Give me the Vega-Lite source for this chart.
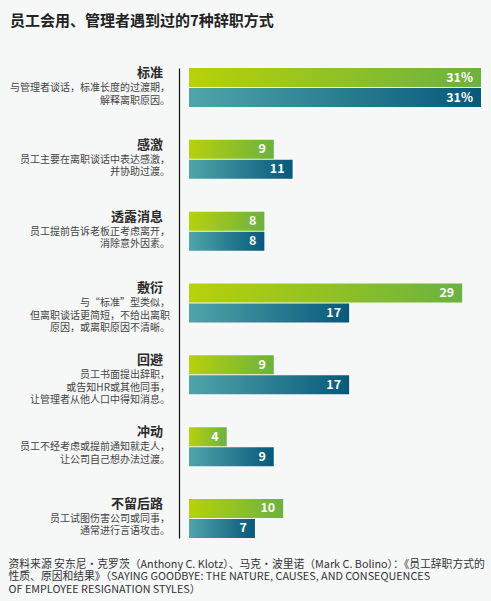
{
  "$schema": "https://vega.github.io/schema/vega-lite/v6.json",
  "width": 292,
  "height": 470,
  "autosize": {"type": "none"},
  "padding": {"left": 189, "top": 68, "right": 10, "bottom": 63},
  "background": "#f6f8f8",
  "config": {"view": {"stroke": null}, "font": "Noto Sans CJK SC"},
  "title": {
    "text": "员工会用、管理者遇到过的7种辞职方式",
    "anchor": "start",
    "frame": "group",
    "dx": -179,
    "offset": 38,
    "fontSize": 15,
    "fontWeight": "bold",
    "color": "#222222"
  },
  "datasets": {
    "bars": [
      {"cat": "标准", "series": "A", "value": 31, "label": "31%"},
      {"cat": "标准", "series": "B", "value": 31, "label": "31%"},
      {"cat": "感激", "series": "A", "value": 9, "label": "9"},
      {"cat": "感激", "series": "B", "value": 11, "label": "11"},
      {"cat": "透露消息", "series": "A", "value": 8, "label": "8"},
      {"cat": "透露消息", "series": "B", "value": 8, "label": "8"},
      {"cat": "敷衍", "series": "A", "value": 29, "label": "29"},
      {"cat": "敷衍", "series": "B", "value": 17, "label": "17"},
      {"cat": "回避", "series": "A", "value": 9, "label": "9"},
      {"cat": "回避", "series": "B", "value": 17, "label": "17"},
      {"cat": "冲动", "series": "A", "value": 4, "label": "4"},
      {"cat": "冲动", "series": "B", "value": 9, "label": "9"},
      {"cat": "不留后路", "series": "A", "value": 10, "label": "10"},
      {"cat": "不留后路", "series": "B", "value": 7, "label": "7"}
    ],
    "cats": [
      {"cat": "标准", "desc": ["与管理者谈话，标准长度的过渡期，", "解释离职原因。"]},
      {"cat": "感激", "desc": ["员工主要在离职谈话中表达感激，", "并协助过渡。"]},
      {"cat": "透露消息", "desc": ["员工提前告诉老板正考虑离开，", "消除意外因素。"]},
      {"cat": "敷衍", "desc": ["与“标准”型类似，", "但离职谈话更简短，不给出离职", "原因，或离职原因不清晰。"]},
      {"cat": "回避", "desc": ["员工书面提出辞职，", "或告知HR或其他同事，", "让管理者从他人口中得知消息。"]},
      {"cat": "冲动", "desc": ["员工不经考虑或提前通知就走人，", "让公司自己想办法过渡。"]},
      {"cat": "不留后路", "desc": ["员工试图伤害公司或同事，", "通常进行言语攻击。"]}
    ]
  },
  "layer": [
    {
      "data": {"name": "bars"},
      "transform": [{"filter": "datum.series === 'A'"}],
      "mark": {
        "type": "bar",
        "color": {
          "gradient": "linear", "x1": 0, "y1": 0, "x2": 1, "y2": 0,
          "stops": [{"offset": 0, "color": "#b8d10a"}, {"offset": 1, "color": "#6bb23f"}]
        }
      },
      "encoding": {
        "x": {
          "field": "value", "type": "quantitative",
          "scale": {"domain": [0, 31], "nice": false},
          "axis": {
            "labels": false, "ticks": false, "domain": false, "grid": false,
            "title": [
              "资料来源  安东尼·克罗茨（Anthony C. Klotz）、马克·波里诺（Mark C. Bolino）：《员工辞职方式的",
              "性质、原因和结果》（SAYING GOODBYE: THE NATURE, CAUSES, AND CONSEQUENCES",
              "OF EMPLOYEE RESIGNATION STYLES）"
            ],
            "titleX": -181, "titleAlign": "left", "titleAnchor": "start",
            "titleBaseline": "top", "titlePadding": 20,
            "titleFontSize": 10.8, "titleFontWeight": "normal", "titleColor": "#333333",
            "titleLineHeight": 12.5
          }
        },
        "y": {
          "field": "cat", "type": "nominal",
          "scale": {"domain": ["标准", "感激", "透露消息", "敷衍", "回避", "冲动", "不留后路"], "paddingInner": 0.457, "paddingOuter": 0},
          "axis": {"title": null, "labels": false, "ticks": false, "grid": false, "domain": true, "domainColor": "#111111", "domainWidth": 1.2, "offset": 10}
        },
        "yOffset": {"field": "series", "type": "nominal", "scale": {"domain": ["A", "B"], "paddingInner": 0.05, "paddingOuter": 0}}
      }
    },
    {
      "data": {"name": "bars"},
      "transform": [{"filter": "datum.series === 'B'"}],
      "mark": {
        "type": "bar",
        "color": {
          "gradient": "linear", "x1": 0, "y1": 0, "x2": 1, "y2": 0,
          "stops": [{"offset": 0, "color": "#4fa5a9"}, {"offset": 1, "color": "#07597b"}]
        }
      },
      "encoding": {
        "x": {"field": "value", "type": "quantitative"},
        "y": {"field": "cat", "type": "nominal"},
        "yOffset": {"field": "series", "type": "nominal"}
      }
    },
    {
      "data": {"name": "bars"},
      "mark": {"type": "text", "align": "right", "baseline": "middle", "dx": -8, "color": "#ffffff", "fontSize": 12.5, "fontWeight": "bold"},
      "encoding": {
        "x": {"field": "value", "type": "quantitative"},
        "y": {"field": "cat", "type": "nominal"},
        "yOffset": {"field": "series", "type": "nominal"},
        "text": {"field": "label"}
      }
    },
    {
      "data": {"name": "cats"},
      "mark": {"type": "text", "align": "right", "baseline": "top", "dx": -26, "dy": -1, "color": "#2a2a2a", "fontSize": 13, "fontWeight": "bold"},
      "encoding": {
        "x": {"datum": 0, "type": "quantitative"},
        "y": {"field": "cat", "type": "nominal", "bandPosition": 0},
        "text": {"field": "cat"}
      }
    },
    {
      "data": {"name": "cats"},
      "mark": {"type": "text", "align": "right", "baseline": "top", "dx": -19, "dy": 15, "color": "#444444", "fontSize": 10, "lineHeight": 12.5},
      "encoding": {
        "x": {"datum": 0, "type": "quantitative"},
        "y": {"field": "cat", "type": "nominal", "bandPosition": 0},
        "text": {"field": "desc"}
      }
    }
  ]
}
